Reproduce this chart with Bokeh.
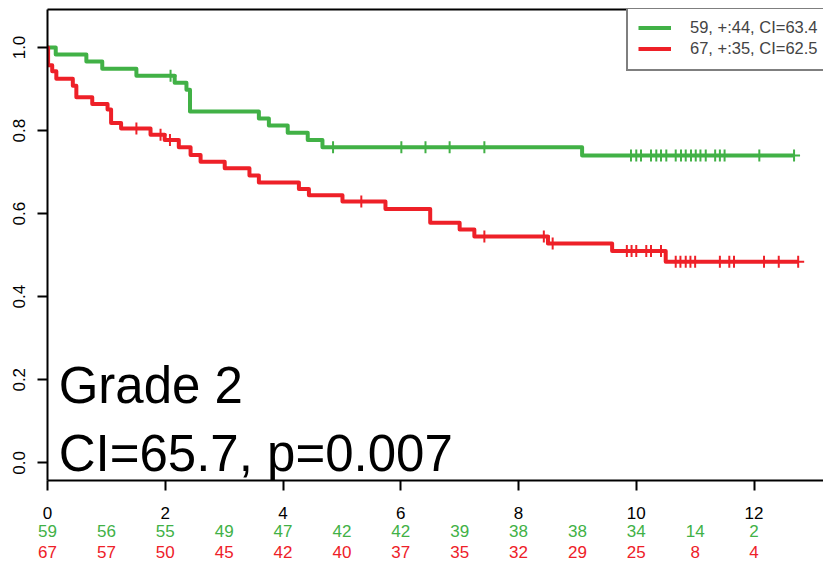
import numpy as np
from bokeh.plotting import figure
from bokeh.models import (Range1d, FixedTicker, LinearAxis, Label,
                          PrintfTickFormatter, Legend, LegendItem)
from bokeh.embed import file_html
from bokeh.resources import INLINE

GREEN = "#41B146"
RED = "#EE2028"
FONT = "Liberation Sans"

# ---- data ----
green_event_t = [0.14, 0.66, 0.93, 1.51, 2.16, 2.36, 2.42, 3.59, 3.76, 4.08, 4.42, 4.67, 9.08]
green_event_s = [0.983, 0.966, 0.949, 0.932, 0.915, 0.898, 0.846, 0.829, 0.812, 0.795, 0.777, 0.760, 0.740]
green_censor_t = [2.09, 4.85, 6.01, 6.42, 6.83, 7.42, 9.91, 10.00, 10.08, 10.25, 10.34, 10.42,
                  10.51, 10.67, 10.76, 10.84, 10.93, 11.01, 11.09, 11.18, 11.34, 11.42, 11.50,
                  12.09, 12.68]

red_event_t = [0.01, 0.08, 0.15, 0.43, 0.49, 0.76, 1.02, 1.08, 1.25, 1.75, 1.99, 2.23, 2.43,
               2.60, 3.01, 3.43, 3.59, 4.27, 4.44, 5.01, 5.74, 6.50, 7.00, 7.25, 8.50, 9.59, 10.50]
red_event_s = [0.957, 0.943, 0.925, 0.908, 0.880, 0.864, 0.851, 0.818, 0.805, 0.790, 0.777,
               0.760, 0.741, 0.725, 0.709, 0.692, 0.675, 0.659, 0.644, 0.629, 0.611, 0.578,
               0.562, 0.545, 0.528, 0.510, 0.484]
red_censor_t = [1.51, 1.92, 2.08, 5.33, 7.42, 8.43, 8.58, 9.84, 9.92, 10.00, 10.17, 10.25,
                10.42, 10.67, 10.75, 10.84, 10.92, 11.00, 11.42, 11.58, 11.66, 12.17, 12.42, 12.75]

risk_times = list(range(13))
green_risk = [59, 56, 55, 49, 47, 42, 42, 39, 38, 38, 34, 14, 2]
red_risk = [67, 57, 50, 45, 42, 40, 37, 35, 32, 29, 25, 8, 4]

x_ticks = [0, 2, 4, 6, 8, 10, 12]
y_ticks = [0.0, 0.2, 0.4, 0.6, 0.8, 1.0]
legend_labels = ["59, +:44, CI=63.4", "67, +:35, CI=62.5"]
title_lines = ["Grade 2", "CI=65.7, p=0.007"]


def km_path(ev_t, ev_s, end_t):
    xs = [0.0] + list(ev_t) + [end_t]
    ys = [1.0] + list(ev_s) + [ev_s[-1]]
    return xs, ys


def surv_at(ev_t, ev_s, t):
    idx = np.searchsorted(np.array(ev_t), np.array(t), side="right")
    return np.array([1.0] + list(ev_s))[idx]


p = figure(width=823, height=564,
           x_range=Range1d(0, 13.18), y_range=Range1d(-0.0426, 1.0915),
           output_backend="svg", toolbar_location=None,
           x_axis_type=None, y_axis_type=None,
           min_border_left=47, min_border_right=0,
           min_border_top=9, min_border_bottom=84)
p.outline_line_color = None
p.background_fill_color = "white"
p.border_fill_color = "white"


def style_axis(ax, size):
    ax.major_label_text_font = FONT
    ax.major_label_text_font_size = size
    ax.major_label_text_color = "black"


# top border line
top = LinearAxis(ticker=FixedTicker(ticks=[]), axis_line_width=2, axis_line_color="black",
                 major_tick_out=0, major_tick_in=0, major_label_text_font_size="0px",
                 major_label_standoff=0)
p.add_layout(top, "above")

# x axis
xaxis = LinearAxis(ticker=FixedTicker(ticks=x_ticks), axis_line_width=2,
                   major_tick_line_width=2, major_tick_out=10, major_tick_in=0,
                   major_label_standoff=16)
style_axis(xaxis, "17px")
p.add_layout(xaxis, "below")

# risk rows
for counts, col, so in ((green_risk, GREEN, 3), (red_risk, RED, 6)):
    ax = LinearAxis(ticker=FixedTicker(ticks=risk_times),
                    major_label_overrides={t: str(c) for t, c in zip(risk_times, counts)},
                    axis_line_color=None, major_tick_line_color=None,
                    major_tick_out=0, major_tick_in=0, major_label_standoff=so)
    style_axis(ax, "17px")
    ax.major_label_text_color = col
    p.add_layout(ax, "below")

# y axis
yaxis = LinearAxis(ticker=FixedTicker(ticks=y_ticks), formatter=PrintfTickFormatter(format="%.1f"),
                   axis_line_width=2, major_tick_line_width=2, major_tick_out=10, major_tick_in=0,
                   major_label_orientation="vertical", major_label_standoff=12)
style_axis(yaxis, "17px")
p.add_layout(yaxis, "left")

# curves
gx, gy = km_path(green_event_t, green_event_s, max(green_censor_t))
rx, ry = km_path(red_event_t, red_event_s, max(red_censor_t))
g_line = p.step(gx, gy, mode="after", line_color=GREEN, line_width=4, line_join="round")
r_line = p.step(rx, ry, mode="after", line_color=RED, line_width=4, line_join="round")

p.scatter(green_censor_t, surv_at(green_event_t, green_event_s, green_censor_t),
          marker="cross", size=12, line_width=2, line_color=GREEN)
p.scatter(red_censor_t, surv_at(red_event_t, red_event_s, red_censor_t),
          marker="cross", size=12, line_width=2, line_color=RED)

# big annotation text
p.add_layout(Label(x=0.19, y=0.186, text=title_lines[0], text_font=FONT,
                   text_font_size="51px", text_color="black", text_baseline="alphabetic"))
p.add_layout(Label(x=0.19, y=0.023, text=title_lines[1], text_font=FONT,
                   text_font_size="51px", text_color="black", text_baseline="alphabetic"))

legend = Legend(items=[LegendItem(label=legend_labels[0], renderers=[g_line]),
                       LegendItem(label=legend_labels[1], renderers=[r_line])],
                location=(579, 409), margin=0, padding=10, spacing=0,
                label_height=21, glyph_height=21, glyph_width=33, label_standoff=19,
                label_text_font=FONT, label_text_font_size="16.5px",
                border_line_color="black", border_line_width=2,
                background_fill_color="white", background_fill_alpha=1.0)
p.add_layout(legend)

open("out.html", "w").write(file_html(p, INLINE))
